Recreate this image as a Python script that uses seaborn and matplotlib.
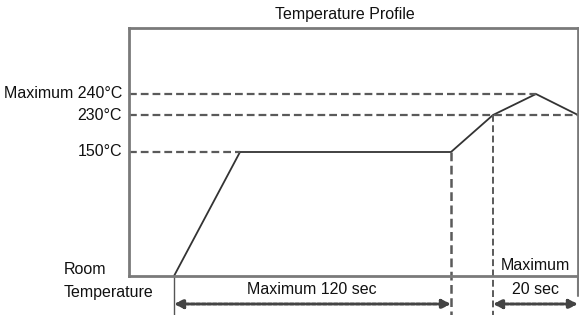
import matplotlib
matplotlib.use("Agg")
import matplotlib.pyplot as plt
import seaborn as sns
import pandas as pd

# ---- data (schematic positions) ----
time_pts = [45, 111, 322, 364, 407, 449]        # horizontal positions of profile vertices
temp_pts = [0, 124, 124, 161, 182, 161]         # vertical positions of profile vertices
level_pos = [0, 124, 161, 182]                  # room, 150, 230, 240
level_labels = ["Room", "150°C", "230°C", "Maximum 240°C"]
title = "Temperature Profile"
span_labels = ["Maximum 120 sec", "Maximum", "20 sec"]

sns.set_style("white")
plt.rcParams['font.family'] = ['Liberation Sans', 'DejaVu Sans']

fig = plt.figure(figsize=(5.79, 3.15), dpi=100)
ax = fig.add_axes([129/579, (315-276)/315, 449/579, 248/315])

df = pd.DataFrame({"t": time_pts, "T": temp_pts})
sns.lineplot(data=df, x="t", y="T", ax=ax, color="#333333", lw=1.3, sort=False)

ax.set_xlim(0, 449)
ax.set_ylim(0, 248)
ax.set_xticks([])
ax.set_yticks([])
ax.set_xlabel("")
ax.set_ylabel("")
for s in ax.spines.values():
    s.set_color("#7a7a7a")
    s.set_linewidth(2)

dash = (0, (3.5, 1.8))
dcol = "#5a5a5a"
# horizontal dashed guide lines
ax.plot([0, time_pts[1]], [level_pos[1]] * 2, color=dcol, lw=1.6, ls=dash)
ax.plot([0, 449], [level_pos[2]] * 2, color=dcol, lw=1.6, ls=dash)
ax.plot([0, time_pts[4]], [level_pos[3]] * 2, color=dcol, lw=1.6, ls=dash)
# vertical dashed guide lines
ax.plot([time_pts[2]] * 2, [level_pos[1], -39], color=dcol, lw=1.8, ls=dash, clip_on=False)
ax.plot([time_pts[3]] * 2, [level_pos[2], -39], color=dcol, lw=1.4, ls=dash, clip_on=False)
# solid ticks below axis
ax.plot([time_pts[0]] * 2, [0, -39], color="#555555", lw=1.0, clip_on=False)
ax.plot([449] * 2, [0, -20], color="#7a7a7a", lw=1.5, clip_on=False)

# arrows
for x0, x1 in [(time_pts[0], time_pts[2]), (time_pts[3], 449)]:
    ax.annotate("", xy=(x0, -28), xytext=(x1, -28), annotation_clip=False,
                arrowprops=dict(arrowstyle="<|-|>", color="#444444", lw=2.2,
                                linestyle=(0, (1.2, 0.6)), mutation_scale=13,
                                shrinkA=0, shrinkB=0))

fs = 11.5
tc = "#111111"
# level labels
ax.text(-7, level_pos[3], level_labels[3], ha="right", va="center", fontsize=fs, color=tc)
ax.text(-7, level_pos[2], level_labels[2], ha="right", va="center", fontsize=fs, color=tc)
ax.text(-7, level_pos[1], level_labels[1], ha="right", va="center", fontsize=fs, color=tc)
ax.text(-65, 6, level_labels[0], ha="left", va="center", fontsize=fs, color=tc)
ax.text(-65, -17, "Temperature", ha="left", va="center", fontsize=fs, color=tc)

ax.text(183, -14, span_labels[0], ha="center", va="center", fontsize=fs, color=tc)
ax.text(406, 11, span_labels[1], ha="center", va="center", fontsize=fs, color=tc)
ax.text(406, -13, span_labels[2], ha="center", va="center", fontsize=fs, color=tc)

fig.text(345/579, 1 - 15/315, title, ha="center", va="center", fontsize=fs, color=tc)

fig.savefig("out.png", dpi=100)
